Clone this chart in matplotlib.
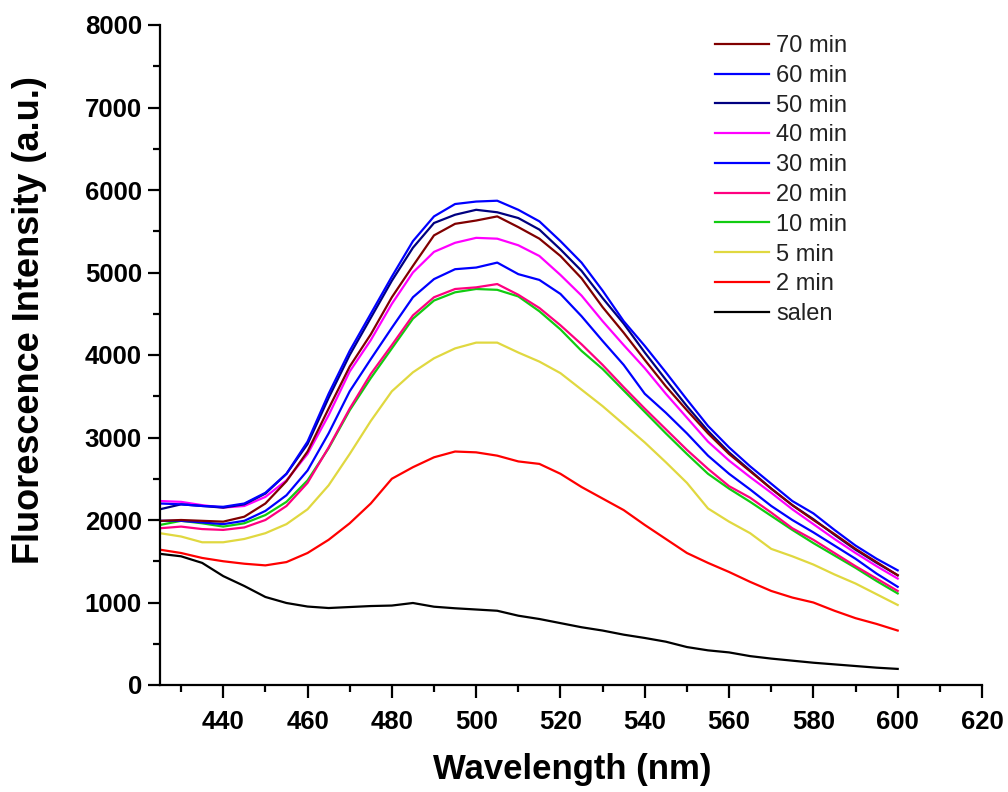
import matplotlib
matplotlib.use("Agg")
import matplotlib.pyplot as plt
from matplotlib.ticker import MultipleLocator

plt.rcParams['font.family'] = ['Liberation Sans', 'DejaVu Sans']

wavelength = list(range(425, 601, 5))

salen = [1590, 1560, 1480, 1320, 1200, 1067, 994, 951, 933, 945, 957, 963,
         994, 949, 930, 915, 900, 840, 800, 750, 700, 660, 610, 570, 525,
         460, 420, 395, 350, 320, 295, 270, 250, 230, 210, 195]
min2 = [1640, 1600, 1540, 1500, 1470, 1450, 1490, 1600, 1760, 1960, 2200, 2500,
        2640, 2760, 2830, 2820, 2780, 2710, 2680, 2560, 2400, 2260, 2120, 1940,
        1770, 1600, 1480, 1370, 1250, 1140, 1060, 1000, 900, 810, 740, 660]
min5 = [1840, 1800, 1730, 1730, 1770, 1840, 1950, 2130, 2420, 2800, 3200, 3560,
        3790, 3960, 4080, 4150, 4150, 4030, 3920, 3780, 3580, 3380, 3160, 2940,
        2700, 2450, 2140, 1980, 1840, 1650, 1560, 1460, 1340, 1230, 1100, 970]
min10 = [1940, 1990, 1960, 1920, 1960, 2060, 2220, 2480, 2870, 3330, 3720, 4080,
         4440, 4660, 4760, 4800, 4790, 4710, 4530, 4310, 4050, 3830, 3570, 3310,
         3050, 2800, 2560, 2380, 2220, 2050, 1880, 1720, 1570, 1420, 1260, 1110]
min20 = [1900, 1920, 1890, 1880, 1910, 2000, 2170, 2450, 2880, 3350, 3770, 4120,
         4480, 4700, 4800, 4820, 4860, 4730, 4570, 4360, 4130, 3880, 3610, 3350,
         3100, 2850, 2620, 2410, 2270, 2090, 1900, 1760, 1600, 1440, 1290, 1140]
min30 = [1990, 1990, 1970, 1950, 1990, 2110, 2300, 2600, 3050, 3560, 3950, 4330,
         4700, 4920, 5040, 5060, 5120, 4980, 4910, 4740, 4470, 4170, 3880, 3530,
         3300, 3050, 2780, 2560, 2370, 2170, 2000, 1850, 1690, 1530, 1350, 1190]
min40 = [2230, 2220, 2180, 2150, 2170, 2280, 2480, 2800, 3270, 3800, 4180, 4620,
         5000, 5250, 5360, 5420, 5410, 5330, 5200, 4970, 4720, 4410, 4120, 3840,
         3530, 3240, 2950, 2720, 2520, 2330, 2130, 1950, 1770, 1600, 1440, 1290]
min50 = [2130, 2190, 2170, 2150, 2190, 2320, 2560, 2920, 3480, 4000, 4450, 4900,
         5300, 5600, 5700, 5760, 5730, 5660, 5520, 5280, 5020, 4690, 4380, 4030,
         3700, 3380, 3080, 2820, 2600, 2380, 2180, 2010, 1820, 1640, 1480, 1330]
min60 = [2200, 2190, 2170, 2160, 2200, 2330, 2560, 2950, 3530, 4050, 4500, 4950,
         5380, 5680, 5830, 5860, 5870, 5760, 5620, 5380, 5120, 4780, 4410, 4110,
         3790, 3460, 3140, 2880, 2650, 2440, 2230, 2080, 1880, 1690, 1530, 1390]
min70 = [1990, 2000, 1990, 1980, 2040, 2200, 2470, 2830, 3350, 3860, 4250, 4700,
         5080, 5450, 5590, 5630, 5680, 5550, 5410, 5200, 4930, 4580, 4270, 3940,
         3620, 3330, 3050, 2800, 2590, 2380, 2180, 2000, 1830, 1650, 1490, 1330]

labels = ['70 min', '60 min', '50 min', '40 min', '30 min', '20 min',
          '10 min', '5 min', '2 min', 'salen']
series = [min70, min60, min50, min40, min30, min20, min10, min5, min2, salen]
colors = ['#800000', '#0000FF', '#000080', '#FF00FF', '#0000FF', '#FF0080',
          '#11CC11', '#E0D840', '#FF0000', '#000000']

fig = plt.figure(figsize=(10.08, 7.92), dpi=100)
ax = fig.add_axes([160/1008, 107/792, 822/1008, 660/792])

handles = []
for lab, ys, c in zip(labels[::-1], series[::-1], colors[::-1]):
    h, = ax.plot(wavelength, ys, color=c, lw=1.6, label=lab)
    handles.append(h)
handles = handles[::-1]

ax.set_xlim(425, 620)
ax.set_ylim(0, 8000)
ax.xaxis.set_major_locator(MultipleLocator(20))
ax.xaxis.set_minor_locator(MultipleLocator(10))
ax.yaxis.set_major_locator(MultipleLocator(1000))
ax.yaxis.set_minor_locator(MultipleLocator(500))
ax.set_xticks(range(440, 621, 20))

for s in ['top', 'right']:
    ax.spines[s].set_visible(False)
for s in ['left', 'bottom']:
    ax.spines[s].set_linewidth(1.6)

ax.tick_params(which='major', direction='out', length=9, width=1.6,
               labelsize=18.5)
ax.tick_params(axis='x', which='major', pad=9)
ax.tick_params(axis='y', which='major', pad=4)
ax.tick_params(which='minor', direction='out', length=5, width=1.6)
for lbl in ax.get_xticklabels() + ax.get_yticklabels():
    lbl.set_fontweight('bold')

ax.set_xlabel('Wavelength (nm)', fontsize=25, fontweight='bold')
ax.xaxis.set_label_coords((572 - 160) / 822, (685 - 770) / 660)
ax.set_ylabel('Fluorescence Intensity (a.u.)', fontsize=26, fontweight='bold')
ax.yaxis.set_label_coords((30 - 160) / 822, (685 - 320) / 660)
ax.xaxis.label.set_va('center')
ax.yaxis.label.set_va('center')

leg = ax.legend(handles=handles, labels=labels, loc='upper left',
                bbox_to_anchor=(715/1008, 1 - 35/792),
                bbox_transform=fig.transFigure, frameon=False, fontsize=17,
                handlelength=2.3, handletextpad=0.3, labelspacing=0.33,
                borderpad=0, borderaxespad=0)
for t in leg.get_texts():
    t.set_color('#222222')

fig.savefig('out.png', dpi=100)
